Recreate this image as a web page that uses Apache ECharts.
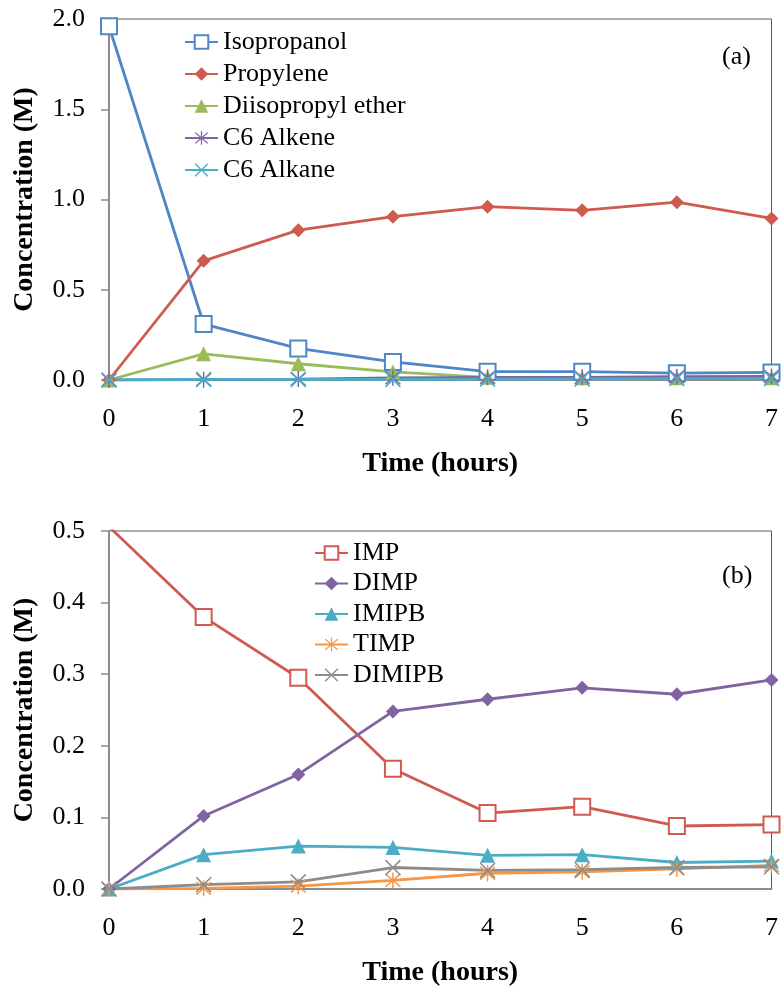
<!DOCTYPE html>
<html>
<head>
<meta charset="utf-8">
<script src="https://cdn.jsdelivr.net/npm/echarts@6/dist/echarts.min.js"></script>
<style>
html,body{margin:0;padding:0;background:#fff;}
#main{width:781px;height:989px;}
</style>
</head>
<body>
<div id="main"></div>
<script>
// ---- Data ----
var hours = [0, 1, 2, 3, 4, 5, 6, 7];
var xTicks = [0, 1, 2, 3, 4, 5, 6, 7];
var yTicksA = [0.0, 0.5, 1.0, 1.5, 2.0];
var yTicksB = [0.0, 0.1, 0.2, 0.3, 0.4, 0.5];

// Panel (a)
var isopropanol = [1.96, 0.31, 0.175, 0.10, 0.046, 0.046, 0.038, 0.042];
var propylene = [0.0, 0.66, 0.83, 0.905, 0.96, 0.94, 0.985, 0.895];
var diisopropylEther = [0.0, 0.145, 0.09, 0.045, 0.015, 0.012, 0.012, 0.012];
var c6Alkene = [0.0, 0.002, 0.005, 0.012, 0.015, 0.015, 0.018, 0.02];
var c6Alkane = [0.0, 0.003, 0.003, 0.003, 0.005, 0.006, 0.008, 0.008];

// Panel (b)
var imp = [0.506, 0.38, 0.295, 0.168, 0.106, 0.115, 0.088, 0.09];
var dimp = [0.0, 0.102, 0.16, 0.248, 0.265, 0.281, 0.272, 0.292];
var imipb = [0.0, 0.048, 0.06, 0.058, 0.047, 0.048, 0.037, 0.039];
var timp = [0.0, 0.001, 0.004, 0.012, 0.022, 0.024, 0.028, 0.033];
var dimipb = [0.0, 0.006, 0.01, 0.03, 0.026, 0.027, 0.03, 0.031];

var namesA = ['Isopropanol', 'Propylene', 'Diisopropyl ether', 'C6 Alkene', 'C6 Alkane'];
var namesB = ['IMP', 'DIMP', 'IMIPB', 'TIMP', 'DIMIPB'];

// ---- Styling ----
var FONT = '"Liberation Serif", "Times New Roman", serif';
var STAR = 'path://M9.2 0 L10.8 0 L10.8 20 L9.2 20 Z M1.4 2.6 L2.6 1.4 L18.6 17.4 L17.4 18.6 Z M17.4 1.4 L18.6 2.6 L2.6 18.6 L1.4 17.4 Z';
var XMARK = 'path://M1.4 2.6 L2.6 1.4 L18.6 17.4 L17.4 18.6 Z M17.4 1.4 L18.6 2.6 L2.6 18.6 L1.4 17.4 Z';

function pairs(v) { return hours.map(function (h, i) { return [h, v[i]]; }); }

function mkSeries(name, vals, color, symbol, size, gi) {
  return {
    name: name, type: 'line', xAxisIndex: gi, yAxisIndex: gi,
    data: pairs(vals), symbol: symbol, symbolSize: size,
    lineStyle: { color: color, width: 2.8 },
    itemStyle: { color: color, borderColor: color, borderWidth: symbol === 'emptyRect' ? 1.6 : 0 },
    emphasis: { disabled: true },
    animation: false, z: 3
  };
}

function xAxis(gi) {
  return {
    type: 'value', gridIndex: gi, min: 0, max: 7, interval: 1,
    name: 'Time (hours)', nameLocation: 'middle', nameGap: 70,
    nameTextStyle: { fontFamily: FONT, fontSize: 28, fontWeight: 'bold', color: '#000' },
    axisLine: { show: true, lineStyle: { color: '#8c8c8c', width: 2 } },
    axisTick: { show: false },
    axisLabel: { fontFamily: FONT, fontSize: 26, color: '#000', margin: 26,
      formatter: function (v) { return xTicks.indexOf(v) >= 0 ? String(v) : ''; } },
    splitLine: { show: false }
  };
}

function yAxis(gi, max, interval, ticks) {
  return {
    type: 'value', gridIndex: gi, min: 0, max: max, interval: interval,
    name: 'Concentration (M)', nameLocation: 'middle', nameGap: 70,
    nameTextStyle: { fontFamily: FONT, fontSize: 28, fontWeight: 'bold', color: '#000' },
    axisLine: { show: true, onZero: false, lineStyle: { color: '#8c8c8c', width: 2 } },
    axisTick: { show: true, inside: false, length: 8, lineStyle: { color: '#8c8c8c', width: 1.5 } },
    axisLabel: { fontFamily: FONT, fontSize: 26, color: '#000', margin: 24,
      formatter: function (v) {
        for (var i = 0; i < ticks.length; i++) { if (Math.abs(ticks[i] - v) < 1e-9) return ticks[i].toFixed(1); }
        return '';
      } },
    splitLine: { show: false }
  };
}

var chart = echarts.init(document.getElementById('main'), null, { renderer: 'canvas' });
chart.setOption({
  animation: false,
  backgroundColor: '#fff',
  grid: [
    { left: 109, right: 9, top: 19, height: 361, show: true, borderColor: '#595959', borderWidth: 1, backgroundColor: 'transparent' },
    { left: 109, right: 9, top: 531, height: 358, show: true, borderColor: '#595959', borderWidth: 1, backgroundColor: 'transparent' }
  ],
  xAxis: [xAxis(0), xAxis(1)],
  yAxis: [yAxis(0, 2.0, 0.5, yTicksA), yAxis(1, 0.5, 0.1, yTicksB)],
  legend: [
    { data: namesA, orient: 'vertical', left: 179, top: 24, itemWidth: 33, itemHeight: 17, itemGap: 6,
      textStyle: { fontFamily: FONT, fontSize: 26, color: '#000', lineHeight: 26 }, selectedMode: false },
    { data: namesB, orient: 'vertical', left: 309, top: 535, itemWidth: 33, itemHeight: 17, itemGap: 4.5,
      textStyle: { fontFamily: FONT, fontSize: 26, color: '#000', lineHeight: 26 }, selectedMode: false }
  ],
  graphic: [
    { type: 'text', left: 722, top: 44, style: { text: '(a)', font: '26px ' + FONT, fill: '#000' } },
    { type: 'text', left: 722, top: 563, style: { text: '(b)', font: '26px ' + FONT, fill: '#000' } }
  ],
  series: [
    mkSeries(namesA[0], isopropanol, '#4f86c6', 'emptyRect', 16, 0),
    mkSeries(namesA[1], propylene, '#cf5a4e', 'diamond', 14, 0),
    mkSeries(namesA[2], diisopropylEther, '#9bbb59', 'triangle', 15, 0),
    mkSeries(namesA[3], c6Alkene, '#8064a2', STAR, 16, 0),
    mkSeries(namesA[4], c6Alkane, '#4bacc6', XMARK, 16, 0),
    mkSeries(namesB[0], imp, '#d05a50', 'emptyRect', 16, 1),
    mkSeries(namesB[1], dimp, '#8064a2', 'diamond', 14, 1),
    mkSeries(namesB[2], imipb, '#4bacc6', 'triangle', 15, 1),
    mkSeries(namesB[3], timp, '#f79646', STAR, 16, 1),
    mkSeries(namesB[4], dimipb, '#8c8c8c', XMARK, 16, 1)
  ]
});
</script>
</body>
</html>
